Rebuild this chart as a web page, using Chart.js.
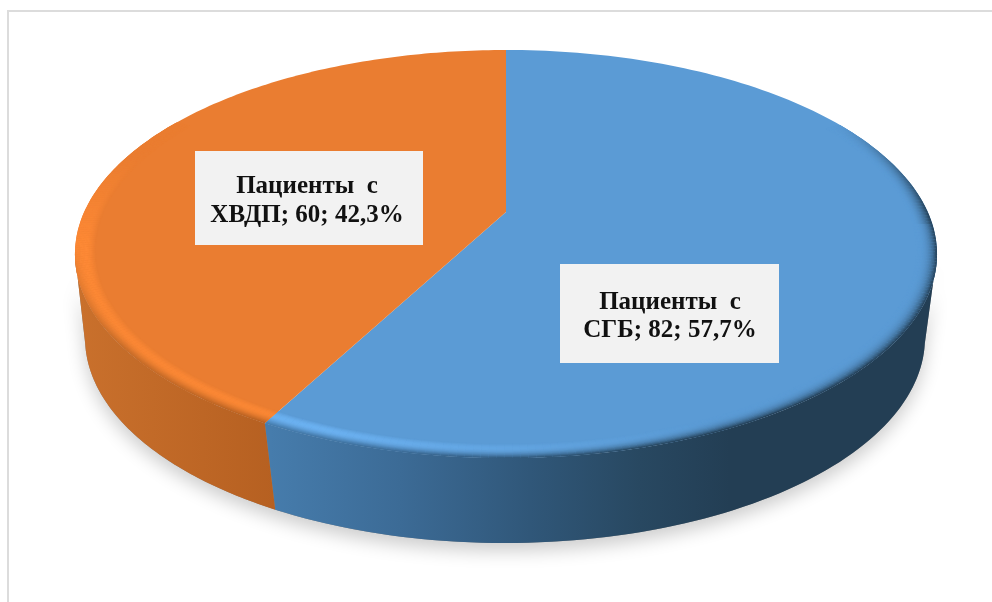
<!DOCTYPE html>
<html>
<head>
<meta charset="utf-8">
<script src="https://cdn.jsdelivr.net/npm/chart.js@4"></script>
<style>
  html, body { margin: 0; padding: 0; background: #fff; overflow: hidden; }
  #frame { position: absolute; left: 7px; top: 10px; right: 0; bottom: 0; border-left: 2.5px solid #dcdcdc; border-top: 2.5px solid #dcdcdc; }
  #pie { position: absolute; left: 0; top: 0; }
</style>
</head>
<body>
<div id="frame"></div>
<canvas id="pie" width="992" height="602"></canvas>
<script>
const categories = ["Пациенты с СГБ", "Пациенты с ХВДП"];
const patients = [82, 60];
const shares = ["57,7%", "42,3%"];
const labelHeads = ["Пациенты  с", "Пациенты  с"];
const labelTails = ["СГБ", "ХВДП"];

const faceColors = ["#5b9bd5", "#ea7d31"];
const brightColors = ["#6fb6f7", "#ff8a36"];

// perspective disc: rim point = center + (a*u, b*v) / (1 - k*v)
const top3d = { cx: 506, cy: 212, a: 421.8, b: 195.4, k: 0.206 };
const bottom3d = { cx: 505, cy: 301.1, a: 413.1, b: 198.4, k: 0.18 };
const wallFrom = Math.asin(top3d.k);
const wallTo = Math.PI - wallFrom;

const boxes = [
  { x: 560, y: 264, w: 219, h: 99, mid: 670, head: 309, tail: 337 },
  { x: 195, y: 151, w: 228, h: 94, mid: 307, head: 193, tail: 222 }
];

// wall shades from left to right, [x, r, g, b]
const wallStops = [
  [[270, 70, 124, 172], [400, 60, 107, 150], [530, 48, 87, 121], [640, 40, 72, 97], [730, 35, 62, 84]],
  [[80, 201, 112, 44], [275, 182, 96, 33]]
];

function project(disc, angle, r) {
  const u = Math.cos(angle) * r, v = Math.sin(angle) * r;
  const w = 1 - disc.k * v;
  return { x: disc.cx + disc.a * u / w, y: disc.cy + disc.b * v / w };
}

function mix(c1, c2, t) {
  return c1.map((c, i) => c + (c2[i] - c) * t);
}
function rgb(c) {
  return "rgb(" + c.map(Math.round).join(",") + ")";
}
function hex(s) {
  return [1, 3, 5].map(i => parseInt(s.substr(i, 2), 16));
}

function wallColorAt(x, index) {
  const stops = wallStops[index];
  if (x <= stops[0][0]) return stops[0].slice(1);
  for (let i = 1; i < stops.length; i++) {
    if (x <= stops[i][0]) {
      const t = (x - stops[i - 1][0]) / (stops[i][0] - stops[i - 1][0]);
      return mix(stops[i - 1].slice(1), stops[i].slice(1), t);
    }
  }
  return stops[stops.length - 1].slice(1);
}

function wallGradient(ctx, index) {
  const stops = wallStops[index];
  const x0 = stops[0][0], x1 = stops[stops.length - 1][0];
  const g = ctx.createLinearGradient(x0, 0, x1, 0);
  stops.forEach(s => g.addColorStop((s[0] - x0) / (x1 - x0), rgb(s.slice(1))));
  return g;
}

function wallPath(ctx, from, to) {
  ctx.beginPath();
  for (let i = 0; i <= 80; i++) {
    const p = project(top3d, from + (to - from) * i / 80, 1);
    i ? ctx.lineTo(p.x, p.y) : ctx.moveTo(p.x, p.y);
  }
  for (let i = 80; i >= 0; i--) {
    const p = project(bottom3d, from + (to - from) * i / 80, 1);
    ctx.lineTo(p.x, p.y);
  }
  ctx.closePath();
}

function facePath(ctx, arc) {
  ctx.beginPath();
  ctx.moveTo(top3d.cx, top3d.cy);
  for (let i = 0; i <= 160; i++) {
    const p = project(top3d, arc.startAngle + (arc.endAngle - arc.startAngle) * i / 160, 1);
    ctx.lineTo(p.x, p.y);
  }
  ctx.closePath();
}

// rounded rim between the face and the wall, shaded ring by ring
function drawRim(ctx, arc, index) {
  const face = hex(faceColors[index]);
  const bright = hex(brightColors[index]);
  const rings = 16, inner = 0.955, steps = 240;
  ctx.save();
  facePath(ctx, arc);
  ctx.clip();
  ctx.lineWidth = 1.6;
  for (let j = 0; j <= rings; j++) {
    const t = j / rings;
    const r = inner + (1 - inner) * t;
    for (let i = 0; i < steps; i++) {
      const a0 = arc.startAngle + (arc.endAngle - arc.startAngle) * i / steps;
      const a1 = arc.startAngle + (arc.endAngle - arc.startAngle) * (i + 1) / steps;
      const s = Math.sin(a0), c = Math.cos(a0);
      if (s < -0.5) continue;
      const p0 = project(top3d, a0, r), p1 = project(top3d, a1, r);
      // highlight is strongest toward the lower left, gone on the right
      const lit = Math.max(0, Math.min(1, 0.55 - c * 1.3));
      const fadeIn = Math.max(0, Math.min(1, (s + 0.3) / 0.5));
      // the band sits in the middle of the rim at the front, at the outer edge on the far left
      const front = Math.max(0, Math.min(1, (s - 0.15) / 0.45));
      const hump = t < 0.5 ? Math.sin(Math.PI * t) : 1 - front * (1 - Math.sin(Math.PI * t));
      let col = mix(face, bright, hump * lit * fadeIn);
      let dark;
      let edge;
      if (s > 0.05) {
        const p = project(top3d, a0, 1);
        edge = wallColorAt(p.x, index);
        const toWall = Math.max(front, index === 0 ? 1 : 0);
        dark = Math.pow(t, 3) * toWall;
      } else {
        // thin dark outline on the far right only
        edge = [35, 62, 84];
        dark = index === 0 ? Math.pow(t, 2.2) * Math.max(0, Math.min(1, (s + 0.5) / 0.5)) : 0;
      }
      col = mix(col, edge, dark);
      ctx.strokeStyle = rgb(col);
      ctx.beginPath();
      ctx.moveTo(p0.x, p0.y);
      ctx.lineTo(p1.x, p1.y);
      ctx.stroke();
    }
  }
  ctx.restore();
}

function drawLabel(ctx, index) {
  const box = boxes[index];
  ctx.fillStyle = "#f2f2f2";
  ctx.fillRect(box.x, box.y, box.w, box.h);
  ctx.fillStyle = "#111";
  ctx.font = "bold 25px 'Liberation Serif'";
  ctx.textAlign = "center";
  ctx.textBaseline = "alphabetic";
  ctx.fillText(labelHeads[index], box.mid, box.head);
  ctx.fillText(labelTails[index] + "; " + patients[index] + "; " + shares[index], box.mid, box.tail);
}

const slantedDisc = {
  id: "slantedDisc",
  beforeDatasetDraw(chart) {
    const ctx = chart.ctx;
    const arcs = chart.getDatasetMeta(0).data;
    ctx.save();

    // soft shadow under the whole body
    ctx.save();
    ctx.shadowColor = "rgba(0,0,0,0.2)";
    ctx.shadowBlur = 18;
    ctx.shadowOffsetY = 8;
    ctx.fillStyle = "#888";
    wallPath(ctx, wallFrom, wallTo);
    ctx.fill();
    ctx.restore();

    arcs.forEach((arc, index) => {
      const from = Math.max(arc.startAngle, wallFrom);
      const to = Math.min(arc.endAngle, wallTo);
      if (to > from) {
        ctx.fillStyle = wallGradient(ctx, index);
        wallPath(ctx, from, to);
        ctx.fill();
      }
    });
    arcs.forEach((arc, index) => {
      ctx.fillStyle = faceColors[index];
      facePath(ctx, arc);
      ctx.fill();
    });
    arcs.forEach((arc, index) => drawRim(ctx, arc, index));
    arcs.forEach((arc, index) => drawLabel(ctx, index));

    ctx.restore();
    return false;
  }
};

new Chart(document.getElementById("pie"), {
  type: "pie",
  data: {
    labels: categories,
    datasets: [{ data: patients, backgroundColor: faceColors, borderWidth: 0 }]
  },
  options: {
    responsive: false,
    animation: false,
    plugins: { legend: { display: false }, tooltip: { enabled: false } }
  },
  plugins: [slantedDisc]
});
</script>
</body>
</html>
